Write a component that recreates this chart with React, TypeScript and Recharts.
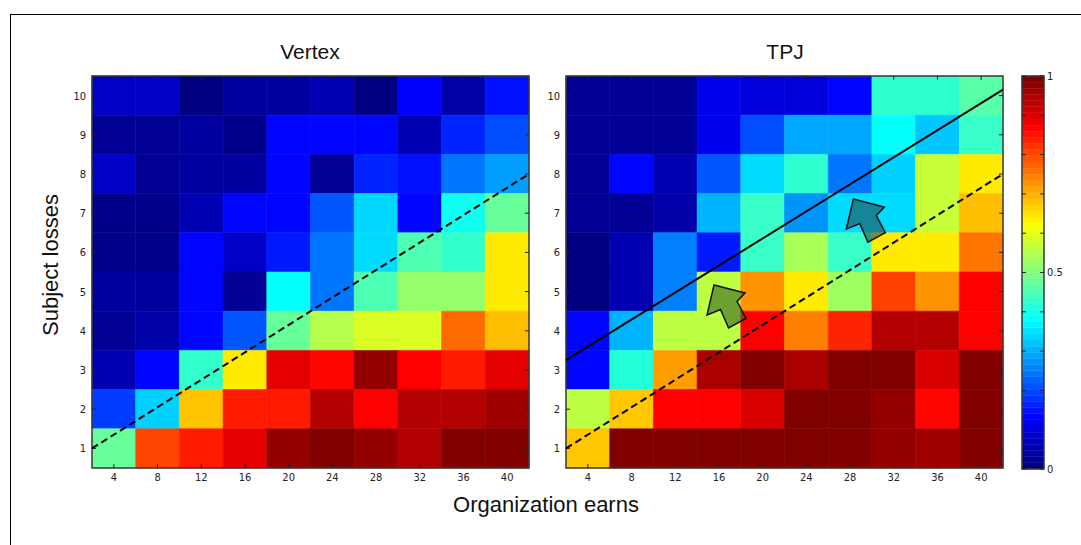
import {
  ComposedChart,
  XAxis,
  YAxis,
  Scatter,
  ReferenceArea,
  ReferenceLine,
  ReferenceDot,
} from "recharts";

const EARNS = [4, 8, 12, 16, 20, 24, 28, 32, 36, 40];
// grid rows below run from losses 10 (top) down to losses 1 (bottom)
const LOSSES = [10, 9, 8, 7, 6, 5, 4, 3, 2, 1];
const LOSS_TICKS = [1, 2, 3, 4, 5, 6, 7, 8, 9, 10];

const VERTEX = [
  [0.07, 0.07, 0.0, 0.03, 0.03, 0.05, 0.0, 0.125, 0.04, 0.14],
  [0.02, 0.02, 0.03, 0.01, 0.13, 0.13, 0.13, 0.05, 0.16, 0.2],
  [0.07, 0.02, 0.03, 0.03, 0.13, 0.02, 0.16, 0.14, 0.24, 0.28],
  [0.01, 0.01, 0.05, 0.13, 0.13, 0.21, 0.335, 0.13, 0.39, 0.475],
  [0.01, 0.01, 0.13, 0.07, 0.15, 0.24, 0.34, 0.45, 0.425, 0.645],
  [0.03, 0.03, 0.13, 0.02, 0.38, 0.24, 0.45, 0.52, 0.52, 0.645],
  [0.02, 0.04, 0.13, 0.21, 0.475, 0.55, 0.59, 0.59, 0.77, 0.69],
  [0.05, 0.13, 0.425, 0.645, 0.9, 0.87, 0.98, 0.875, 0.85, 0.9],
  [0.185, 0.33, 0.684, 0.85, 0.85, 0.95, 0.875, 0.95, 0.95, 0.97],
  [0.475, 0.806, 0.85, 0.9, 0.98, 1.0, 0.98, 0.95, 1.0, 1.0],
];

const TPJ = [
  [0.02, 0.02, 0.02, 0.11, 0.09, 0.09, 0.13, 0.42, 0.42, 0.46],
  [0.02, 0.02, 0.02, 0.11, 0.2, 0.29, 0.29, 0.38, 0.32, 0.43],
  [0.02, 0.13, 0.05, 0.21, 0.34, 0.42, 0.24, 0.33, 0.57, 0.645],
  [0.02, 0.02, 0.04, 0.3, 0.43, 0.27, 0.34, 0.34, 0.57, 0.69],
  [0.0, 0.05, 0.25, 0.15, 0.43, 0.54, 0.43, 0.645, 0.645, 0.76],
  [0.0, 0.05, 0.25, 0.56, 0.73, 0.645, 0.53, 0.81, 0.73, 0.875],
  [0.13, 0.3, 0.56, 0.56, 0.875, 0.75, 0.84, 0.95, 0.95, 0.875],
  [0.13, 0.41, 0.72, 0.958, 1.0, 0.958, 1.0, 1.0, 0.91, 1.0],
  [0.56, 0.68, 0.875, 0.875, 0.91, 1.0, 1.0, 0.98, 0.87, 1.0],
  [0.68, 1.0, 1.0, 1.0, 1.0, 1.0, 1.0, 0.98, 0.97, 1.0],
];

// boundary lines, as [x, y] end points in data units
const DASHED_LINE = [
  [2, 1],
  [42, 8],
];
const SOLID_LINE = [
  [2, 3.25],
  [42, 10.15],
];

// arrow tips in data units
const GREEN_ARROW = { x: 15.55, y: 5.17 };
const TEAL_ARROW = { x: 28.3, y: 7.36 };

const COLORBAR_LEVELS = 64;
const COLORBAR_TICKS = [0, 0.1, 0.2, 0.3, 0.4, 0.5, 0.6, 0.7, 0.8, 0.9, 1];
const COLORBAR_LABELS = [0, 0.5, 1];

const FONT = '"Liberation Sans", Arial, sans-serif';
const TICK_FONT = '"Liberation Sans Narrow", "DejaVu Sans Condensed", "Liberation Sans", sans-serif';
const FRAME = "#3a3a3a";

function jet(v: number) {
  const c = (t: number) => Math.round(255 * Math.max(0, Math.min(1, t)));
  const r = c(Math.min(4 * v - 1.5, -4 * v + 4.5));
  const g = c(Math.min(4 * v - 0.5, -4 * v + 3.5));
  const b = c(Math.min(4 * v + 0.5, -4 * v + 2.5));
  return `rgb(${r},${g},${b})`;
}

function cellsFrom(grid: number[][]) {
  const out: { x: number; y: number; v: number }[] = [];
  grid.forEach((row, i) =>
    row.forEach((v, j) => out.push({ x: EARNS[j], y: LOSSES[i], v }))
  );
  return out;
}

function Arrow(props: any) {
  const { cx, cy, fill } = props;
  const pts = [
    [0, 0],
    [31, 8],
    [23, 16.5],
    [32, 33.5],
    [14.5, 43],
    [6.5, 24.5],
    [-7, 30],
  ]
    .map(([dx, dy]) => `${cx + dx},${cy + dy}`)
    .join(" ");
  return <polygon points={pts} fill={fill} fillOpacity={0.6} stroke="#111" strokeWidth={1.5} />;
}

type HeatmapProps = {
  grid: number[][];
  width: number;
  yAxisWidth: number;
  rightMargin: number;
  showSolid?: boolean;
  showArrows?: boolean;
};

function Heatmap({ grid, width, yAxisWidth, rightMargin, showSolid, showArrows }: HeatmapProps) {
  const cells = cellsFrom(grid);
  const tick = { fontSize: 11, fill: "#222", fontFamily: TICK_FONT };
  // inward tick marks, about 4px long
  const tx = 0.37;
  const ty = 0.1;
  return (
    <ComposedChart width={width} height={500} margin={{ top: 76, right: rightMargin, bottom: 0, left: 0 }}>
      <XAxis
        xAxisId="b"
        type="number"
        dataKey="x"
        domain={[2, 42]}
        ticks={EARNS}
        interval={0}
        allowDataOverflow
        height={32}
        tickSize={0}
        tickMargin={5}
        tick={tick}
        axisLine={false}
        tickLine={false}
      />
      <YAxis
        yAxisId="l"
        type="number"
        dataKey="y"
        domain={[0.5, 10.5]}
        ticks={LOSS_TICKS}
        interval={0}
        allowDataOverflow
        width={yAxisWidth}
        tickSize={0}
        tickMargin={6}
        tick={tick}
        axisLine={false}
        tickLine={false}
      />
      {cells.map((c) => (
        <ReferenceArea
          key={`${c.x}-${c.y}`}
          xAxisId="b"
          yAxisId="l"
          x1={c.x - 2}
          x2={c.x + 2}
          y1={c.y - 0.5}
          y2={c.y + 0.5}
          fill={jet(c.v)}
          fillOpacity={1}
          stroke={jet(c.v)}
          strokeWidth={0.6}
        />
      ))}
      {EARNS.map((x) => (
        <ReferenceLine key={`tb${x}`} xAxisId="b" yAxisId="l" segment={[{ x, y: 0.5 }, { x, y: 0.5 + ty }]} stroke="#222" />
      ))}
      {EARNS.map((x) => (
        <ReferenceLine key={`tt${x}`} xAxisId="b" yAxisId="l" segment={[{ x, y: 10.5 }, { x, y: 10.5 - ty }]} stroke="#222" />
      ))}
      {LOSS_TICKS.map((y) => (
        <ReferenceLine key={`tl${y}`} xAxisId="b" yAxisId="l" segment={[{ x: 2, y }, { x: 2 + tx, y }]} stroke="#222" />
      ))}
      {LOSS_TICKS.map((y) => (
        <ReferenceLine key={`tr${y}`} xAxisId="b" yAxisId="l" segment={[{ x: 42, y }, { x: 42 - tx, y }]} stroke="#222" />
      ))}
      {showSolid && (
        <ReferenceLine
          xAxisId="b"
          yAxisId="l"
          segment={SOLID_LINE.map(([x, y]) => ({ x, y }))}
          stroke="#000"
          strokeWidth={2}
        />
      )}
      <ReferenceLine
        xAxisId="b"
        yAxisId="l"
        segment={DASHED_LINE.map(([x, y]) => ({ x, y }))}
        stroke="#000"
        strokeWidth={2}
        strokeDasharray="7 4"
      />
      <ReferenceArea
        xAxisId="b"
        yAxisId="l"
        x1={2}
        x2={42}
        y1={0.5}
        y2={10.5}
        fill="none"
        stroke={FRAME}
        strokeWidth={1.5}
      />
      {showArrows && (
        <ReferenceDot
          xAxisId="b"
          yAxisId="l"
          x={GREEN_ARROW.x}
          y={GREEN_ARROW.y}
          r={1}
          shape={(p: any) => <Arrow {...p} fill="rgb(57,97,40)" />}
        />
      )}
      {showArrows && (
        <ReferenceDot
          xAxisId="b"
          yAxisId="l"
          x={TEAL_ARROW.x}
          y={TEAL_ARROW.y}
          r={1}
          shape={(p: any) => <Arrow {...p} fill="rgb(37,77,80)" />}
        />
      )}
      <Scatter xAxisId="b" yAxisId="l" data={cells} dataKey="y" shape={() => <g />} isAnimationActive={false} />
    </ComposedChart>
  );
}

function Colorbar() {
  const bands = Array.from({ length: COLORBAR_LEVELS }, (_, i) => i);
  const step = 1 / COLORBAR_LEVELS;
  const tx = 0.18;
  return (
    <ComposedChart width={71} height={500} margin={{ top: 76, right: 0, bottom: 31, left: 12 }}>
      <XAxis
        xAxisId="b"
        type="number"
        dataKey="x"
        domain={[0, 1]}
        allowDataOverflow
        height={0}
        tick={false}
        axisLine={false}
        tickLine={false}
      />
      <YAxis
        yAxisId="r"
        orientation="right"
        type="number"
        dataKey="y"
        domain={[0, 1]}
        ticks={COLORBAR_LABELS}
        interval={0}
        allowDataOverflow
        width={37}
        tickSize={0}
        tickMargin={3}
        tick={{ fontSize: 11, fill: "#222", fontFamily: TICK_FONT, textAnchor: "start" }}
        axisLine={false}
        tickLine={false}
      />
      {bands.map((i) => (
        <ReferenceArea
          key={i}
          xAxisId="b"
          yAxisId="r"
          x1={0}
          x2={1}
          y1={i * step}
          y2={(i + 1) * step}
          fill={jet(i / (COLORBAR_LEVELS - 1))}
          fillOpacity={1}
          stroke={jet(i / (COLORBAR_LEVELS - 1))}
          strokeWidth={0.4}
        />
      ))}
      {COLORBAR_TICKS.map((y) => (
        <ReferenceLine key={`l${y}`} xAxisId="b" yAxisId="r" segment={[{ x: 0, y }, { x: tx, y }]} stroke="#222" />
      ))}
      {COLORBAR_TICKS.map((y) => (
        <ReferenceLine key={`r${y}`} xAxisId="b" yAxisId="r" segment={[{ x: 1, y }, { x: 1 - tx, y }]} stroke="#222" />
      ))}
      <ReferenceArea xAxisId="b" yAxisId="r" x1={0} x2={1} y1={0} y2={1} fill="none" stroke={FRAME} strokeWidth={1.5} />
      <Scatter
        xAxisId="b"
        yAxisId="r"
        data={[{ x: 0, y: 0 }, { x: 1, y: 1 }]}
        dataKey="y"
        shape={() => <g />}
        isAnimationActive={false}
      />
    </ComposedChart>
  );
}

const abs = (left: number, top: number): React.CSSProperties => ({ position: "absolute", left, top });

export default function App() {
  return (
    <div style={{ position: "absolute", left: 0, top: 0, width: 1081, height: 545, background: "#fff", overflow: "hidden", fontFamily: FONT }}>
      <div style={{ position: "absolute", left: 10, top: 14, width: 1071, height: 531, borderTop: "1.5px solid #000", borderLeft: "1.5px solid #000" }} />
      <div style={abs(0, 0)}>
        <Heatmap grid={VERTEX} width={540} yAxisWidth={92} rightMargin={11} />
      </div>
      <div style={abs(530, 0)}>
        <Heatmap grid={TPJ} width={480} yAxisWidth={36} rightMargin={7} showSolid showArrows />
      </div>
      <div style={abs(1010, 0)}>
        <Colorbar />
      </div>
      <div style={{ ...abs(210, 40), width: 200, textAlign: "center", fontSize: 21, color: "#111" }}>Vertex</div>
      <div style={{ ...abs(685, 40), width: 200, textAlign: "center", fontSize: 21, color: "#111" }}>TPJ</div>
      <div style={{ ...abs(396, 492), width: 300, textAlign: "center", fontSize: 22, color: "#111" }}>Organization earns</div>
      <div
        style={{
          position: "absolute",
          left: 51 - 100,
          top: 265 - 13,
          width: 200,
          textAlign: "center",
          fontSize: 22,
          color: "#111",
          transform: "rotate(-90deg)",
        }}
      >
        Subject losses
      </div>
    </div>
  );
}
